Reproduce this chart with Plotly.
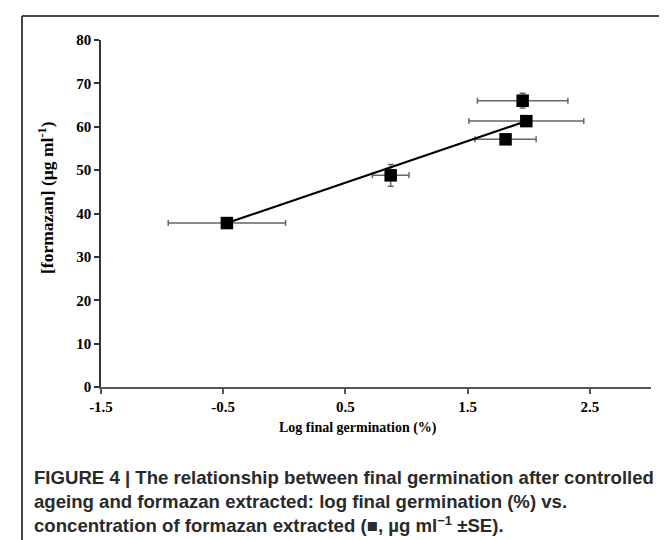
import plotly.graph_objects as go

# Data
log_germination = [-0.47, 0.87, 1.81, 1.95, 1.98]
formazan = [37.8, 48.8, 57.1, 66.0, 61.3]
x_err = [0.48, 0.15, 0.25, 0.37, 0.47]
y_err = [0.6, 2.5, 0.8, 1.7, 0.8]

trend_x = [-0.47, 1.98]
trend_y = [37.8, 61.3]

x_ticks = [-1.5, -0.5, 0.5, 1.5, 2.5]
y_ticks = [0, 10, 20, 30, 40, 50, 60, 70, 80]

W, H = 667, 540
L, R, T, B = 93, 24, 32, 161
pw, ph = W - L - R, H - T - B

def px(x):
    return (x - L) / pw

def py(y):
    return (H - B - y) / ph

serif = "Liberation Serif, Times New Roman, serif"

fig = go.Figure()
fig.add_trace(go.Scatter(
    x=log_germination, y=formazan, mode="markers",
    marker=dict(symbol="square", size=12.5, color="black"),
    error_x=dict(type="data", array=x_err, color="#666666", thickness=1.5, width=3),
    error_y=dict(type="data", array=y_err, color="#666666", thickness=1.5, width=3),
    showlegend=False,
))
fig.add_trace(go.Scatter(
    x=trend_x, y=trend_y, mode="lines",
    line=dict(color="black", width=2.2), showlegend=False,
))

fig.update_layout(
    width=W, height=H,
    margin=dict(l=L, r=R, t=T, b=B),
    paper_bgcolor="white", plot_bgcolor="white",
    xaxis=dict(
        range=[-1.5, 3.0], tickvals=x_ticks, ticktext=[str(v) for v in x_ticks],
        showgrid=False, zeroline=False, showline=True, linecolor="#555555", linewidth=2,
        ticks="outside", ticklen=5, tickwidth=1.5, tickcolor="#555555",
        tickfont=dict(family=serif, size=15, color="black", weight="bold"),
    ),
    yaxis=dict(
        range=[0, 80], tickvals=y_ticks,
        showgrid=False, zeroline=False, showline=True, linecolor="#333333", linewidth=1.5,
        ticks="outside", ticklen=5, tickwidth=1.5, tickcolor="#333333",
        tickfont=dict(family=serif, size=15, color="black", weight="bold"),
    ),
    shapes=[
        dict(type="line", xref="paper", yref="paper", x0=px(14), x1=px(667), y0=py(8), y1=py(8),
             line=dict(color="#444444", width=2)),
        dict(type="line", xref="paper", yref="paper", x0=px(14), x1=px(14), y0=py(8), y1=py(540),
             line=dict(color="#444444", width=2)),
    ],
    annotations=[
        dict(
            xref="paper", yref="paper", x=px(350), y=py(420), xanchor="center", yanchor="middle",
            showarrow=False, text="<b>Log final germination (%)</b>",
            font=dict(family=serif, size=14, color="black"),
        ),
        dict(
            xref="paper", yref="paper", x=px(38), y=py(190), xanchor="center", yanchor="middle",
            showarrow=False, textangle=-90, text="<b>[formazan] (µg ml<sup>-1</sup>)</b>",
            font=dict(family=serif, size=17.5, color="black"),
        ),
        dict(
            xref="paper", yref="paper", x=px(24), y=py(457), xanchor="left", yanchor="top",
            align="left", showarrow=False,
            text=("<b>FIGURE 4 | The relationship between final germination after controlled<br>"
                  "ageing and formazan extracted: log final germination (%) vs.<br>"
                  "concentration of formazan extracted (\u25a0, \u00b5g ml<sup>\u22121</sup> \u00b1SE).</b>"),
            font=dict(family="Liberation Sans, Arial, sans-serif", size=18.6, color="#2a2a2a"),
        ),
    ],
)

fig.write_html("out.html")
